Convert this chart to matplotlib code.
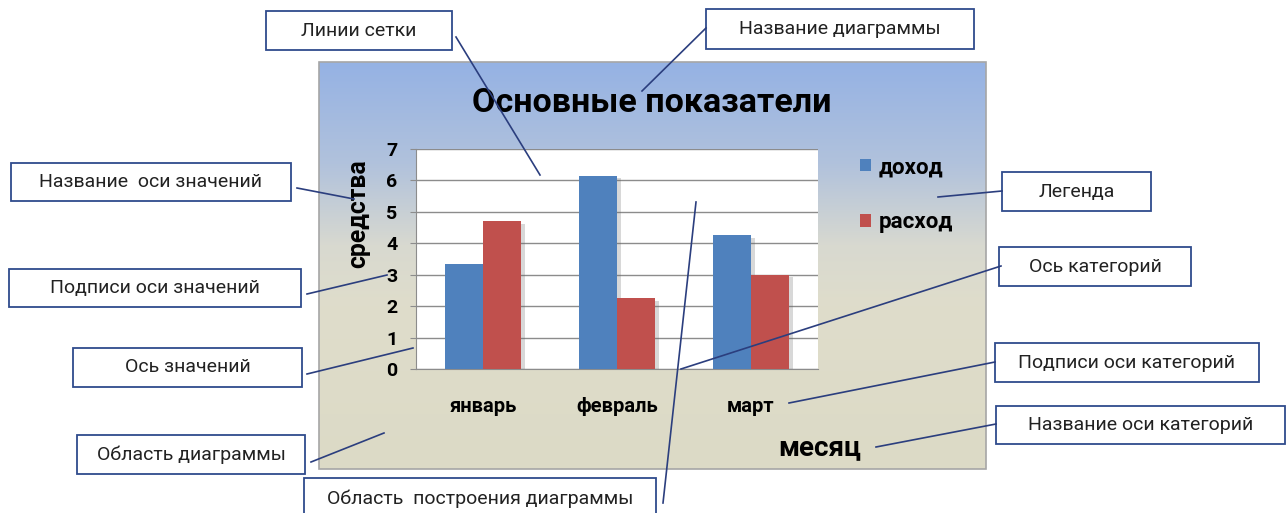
import numpy as np
import matplotlib.pyplot as plt
import matplotlib.patheffects as pe
from matplotlib.colors import LinearSegmentedColormap
from matplotlib.patches import Rectangle

plt.rcParams['font.family'] = ['Roboto', 'DejaVu Sans']

# chart data
months = ['январь', 'февраль', 'март']
income = [3.35, 6.15, 4.25]
expense = [4.7, 2.25, 3.0]
series_names = ['доход', 'расход']
yticks = [0, 1, 2, 3, 4, 5, 6, 7]

# callouts: text, box (x0, y0, x1, y1) in pixels, line start, line end
callouts = [
    ('Линии сетки', (266, 11, 452, 50), (456, 37), (540, 175)),
    ('Название диаграммы', (706, 9, 974, 49), (706, 28), (642, 91)),
    ('Название  оси значений', (11, 163, 291, 201), (297, 188), (354, 199)),
    ('Подписи оси значений', (9, 269, 301, 307), (307, 294), (387, 275)),
    ('Ось значений', (73, 348, 302, 387), (307, 374), (413, 348)),
    ('Область диаграммы', (77, 435, 305, 474), (311, 462), (384, 433)),
    ('Область  построения диаграммы', (304, 478, 656, 520), (663, 503), (696, 202)),
    ('Легенда', (1002, 172, 1151, 211), (1002, 191), (938, 197)),
    ('Ось категорий', (999, 247, 1191, 286), (1001, 266), (681, 369)),
    ('Подписи оси категорий', (995, 343, 1259, 382), (995, 362), (789, 403)),
    ('Название оси категорий', (996, 406, 1285, 444), (996, 424), (876, 447)),
]

W, H = 1288, 513
fig = plt.figure(figsize=(W / 100, H / 100), dpi=100)

# chart area with gradient (pixel coords)
bg = fig.add_axes([0, 0, 1, 1], zorder=0)
bg.set_xlim(0, W)
bg.set_ylim(H, 0)
bg.axis('off')
cmap = LinearSegmentedColormap.from_list(
    'area', [(0, '#95b2e4'), (0.25, '#b1c2dc'), (0.45, '#d8d9d0'), (0.6, '#dfddcb'), (1, '#dcdac6')])
grad = np.linspace(0, 1, 256).reshape(-1, 1)
bg.imshow(grad, cmap=cmap, extent=(319, 986, 469, 62), aspect='auto', zorder=1)
bg.add_patch(Rectangle((319, 62), 667, 407, fill=False, ec='#a6a6a6', lw=1.2, zorder=2))

# plot area
ax = fig.add_axes([416 / W, 1 - 369 / H, (818 - 416) / W, (369 - 149) / H], zorder=1)
x = np.arange(len(months))
w = 0.28
shadow = [pe.SimplePatchShadow(offset=(3, -2), shadow_rgbFace='#666666', alpha=0.25), pe.Normal()]
b1 = ax.bar(x - w / 2, income, w, color='#4f81bd', label=series_names[0], path_effects=shadow, zorder=3)
b2 = ax.bar(x + w / 2, expense, w, color='#c0504d', label=series_names[1], path_effects=shadow, zorder=3)

ax.set_xlim(-0.5, 2.5)
ax.set_ylim(0, 7)
ax.set_yticks(yticks)
ax.set_xticks(x)
ax.set_xticklabels(months)
ax.yaxis.grid(True, color='#8c8c8c', lw=1)
ax.set_axisbelow(True)
for s in ['top', 'right']:
    ax.spines[s].set_visible(False)
for s in ['left', 'bottom']:
    ax.spines[s].set_color('#8c8c8c')
ax.tick_params(axis='y', length=4.5, color='#8c8c8c', labelsize=14, pad=9)
ax.tick_params(axis='x', length=0, labelsize=14.5, pad=20)
plt.setp(ax.get_yticklabels(), fontweight='bold')
plt.setp(ax.get_xticklabels(), fontweight='bold')

ax.set_title('Основные показатели', x=0.587, pad=26.6, fontsize=24.5, fontweight='bold')
ax.set_ylabel('средства', fontsize=17.8, fontweight='bold')
ax.yaxis.set_label_coords(-0.144, 0.705)
ax.yaxis.label.set_va('center')
ax.set_xlabel('месяц', fontsize=20, fontweight='bold')
ax.xaxis.set_label_coords(1.005, -0.359)
ax.xaxis.label.set_va('center')

leg = ax.legend(handles=[b1, b2], loc='upper left', bbox_to_anchor=(1.104, 0.968), frameon=False,
                prop={'weight': 'bold', 'size': 16}, handlelength=0.5, handleheight=0.5,
                handletextpad=0.35, labelspacing=1.5, borderpad=0, borderaxespad=0)
for h in leg.legend_handles:
    h.set_path_effects([])

# callout boxes and leader lines
ov = fig.add_axes([0, 0, 1, 1], zorder=3)
ov.set_xlim(0, W)
ov.set_ylim(H, 0)
ov.axis('off')
for text, (x0, y0, x1, y1), p0, p1 in callouts:
    ov.add_patch(Rectangle((x0, y0), x1 - x0, y1 - y0, fc='white', ec='#2f4b8c', lw=1.3, clip_on=False))
    ov.text((x0 + x1) / 2, (y0 + y1) / 2, text, ha='center', va='center', fontsize=14, color='#222222')
    ov.plot([p0[0], p1[0]], [p0[1], p1[1]], color='#2b3e7e', lw=1.2)

fig.savefig('out.png', dpi=100)
